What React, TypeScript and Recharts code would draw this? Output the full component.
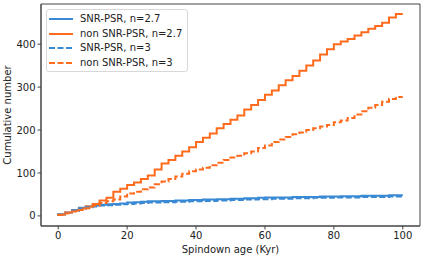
import React from 'react';
import { LineChart, Line, XAxis, YAxis, ReferenceArea } from 'recharts';

// spindown age (Kyr), one step every 2 Kyr
const ages = [
  0, 2, 4, 6, 8, 10, 12, 14, 16, 18, 20, 22, 24, 26, 28, 30, 32, 34, 36, 38, 40,
  42, 44, 46, 48, 50, 52, 54, 56, 58, 60, 62, 64, 66, 68, 70, 72, 74, 76, 78, 80,
  82, 84, 86, 88, 90, 92, 94, 96, 98, 100,
];

const snrN27 = [
  0, 3, 8, 14, 19, 22, 24, 26, 27, 28, 29, 31, 32, 33, 34, 34, 35, 35, 36, 36, 37,
  37, 38, 38, 39, 39, 40, 40, 41, 41, 42, 43, 43, 43, 43, 44, 44, 44, 44, 45, 45,
  45, 46, 46, 46, 47, 47, 47, 47, 48, 48,
];

const nonSnrN27 = [
  0, 3, 8, 12, 17, 22, 28, 36, 42, 56, 63, 72, 78, 86, 94, 108, 122, 130, 140, 150, 160,
  172, 182, 192, 204, 214, 224, 234, 248, 258, 270, 282, 292, 304, 316, 326, 338, 350, 362, 376, 388,
  400, 406, 412, 420, 428, 436, 442, 450, 462, 470,
];

const snrN3 = [
  0, 3, 7, 12, 17, 20, 22, 24, 25, 26, 27, 28, 29, 30, 31, 31, 32, 32, 33, 33, 34,
  34, 35, 35, 36, 36, 37, 37, 38, 38, 39, 39, 40, 40, 40, 41, 41, 41, 42, 42, 42,
  43, 43, 43, 43, 44, 44, 44, 44, 45, 45,
];

const nonSnrN3 = [
  0, 2, 6, 10, 14, 18, 24, 30, 34, 38, 45, 52, 56, 62, 66, 74, 80, 86, 92, 98, 104,
  108, 112, 118, 124, 130, 136, 140, 146, 150, 158, 164, 172, 178, 184, 190, 194, 200, 204, 208, 212,
  218, 222, 228, 236, 244, 252, 258, 266, 272, 277,
];

const xTicks = [0, 20, 40, 60, 80, 100];
const yTicks = [0, 100, 200, 300, 400];

const BLUE = '#3a89d4';
const ORANGE = '#ff6b1c';

const data = ages.map((age, i) => ({
  age,
  snr27: snrN27[i],
  non27: nonSnrN27[i],
  snr3: snrN3[i],
  non3: nonSnrN3[i],
}));

const legendItems = [
  { label: 'SNR-PSR, n=2.7', color: BLUE, dash: undefined },
  { label: 'non SNR-PSR, n=2.7', color: ORANGE, dash: undefined },
  { label: 'SNR-PSR, n=3', color: BLUE, dash: '6 2.5' },
  { label: 'non SNR-PSR, n=3', color: ORANGE, dash: '6 2.5' },
];

const tickStyle = { fontSize: 10, fill: '#222', fontFamily: 'DejaVu Sans' };

const App = () => {
  return (
    <div style={{ position: 'absolute', left: 0, top: 0, fontFamily: 'DejaVu Sans' }}>
      <LineChart width={425} height={258} data={data} margin={{ top: 4, right: 5, bottom: 0, left: 0 }}>
        <XAxis
          dataKey="age"
          type="number"
          domain={[-5, 105]}
          ticks={xTicks}
          tick={tickStyle}
          tickSize={3.5}
          tickMargin={2}
          height={32}
          axisLine={{ stroke: '#444' }}
          tickLine={{ stroke: '#444' }}
          label={{ value: 'Spindown age (Kyr)', position: 'insideBottom', offset: 5, fontSize: 10, fill: '#222' }}
        />
        <YAxis
          type="number"
          domain={[-23.5, 493.5]}
          ticks={yTicks}
          tick={tickStyle}
          tickSize={3.5}
          tickMargin={2}
          width={41}
          axisLine={{ stroke: '#444' }}
          tickLine={{ stroke: '#444' }}
          label={{ value: 'Cumulative number', angle: -90, position: 'insideLeft', offset: 7, fontSize: 10, fill: '#222', style: { textAnchor: 'middle' } }}
        />
        <ReferenceArea x1={-5} x2={105} y1={-23.5} y2={493.5} fill="none" stroke="#444" strokeWidth={1} />
        <Line type="stepBefore" dataKey="snr27" stroke={BLUE} strokeWidth={2} dot={false} isAnimationActive={false} />
        <Line type="stepBefore" dataKey="non27" stroke={ORANGE} strokeWidth={2} dot={false} isAnimationActive={false} />
        <Line type="stepBefore" dataKey="snr3" stroke={BLUE} strokeWidth={2} strokeDasharray="6 2.5" dot={false} isAnimationActive={false} />
        <Line type="stepBefore" dataKey="non3" stroke={ORANGE} strokeWidth={2} strokeDasharray="6 2.5" dot={false} isAnimationActive={false} />
      </LineChart>
      <div
        style={{
          position: 'absolute',
          left: 46,
          top: 9,
          width: 142,
          height: 63,
          border: '1px solid #d8d8d8',
          borderRadius: 3,
          background: 'rgba(255,255,255,0.8)',
          boxSizing: 'border-box',
          paddingTop: 2,
        }}
      >
        {legendItems.map(item => (
          <div key={item.label} style={{ display: 'flex', alignItems: 'center', height: 14.6 }}>
            <svg width={32} height={10} style={{ marginLeft: 1 }}>
              <line x1={1} y1={5} x2={25} y2={5} stroke={item.color} strokeWidth={2} strokeDasharray={item.dash} />
            </svg>
            <span style={{ fontSize: 10, color: '#222', lineHeight: '12px', whiteSpace: 'nowrap' }}>{item.label}</span>
          </div>
        ))}
      </div>
    </div>
  );
};

export default App;
